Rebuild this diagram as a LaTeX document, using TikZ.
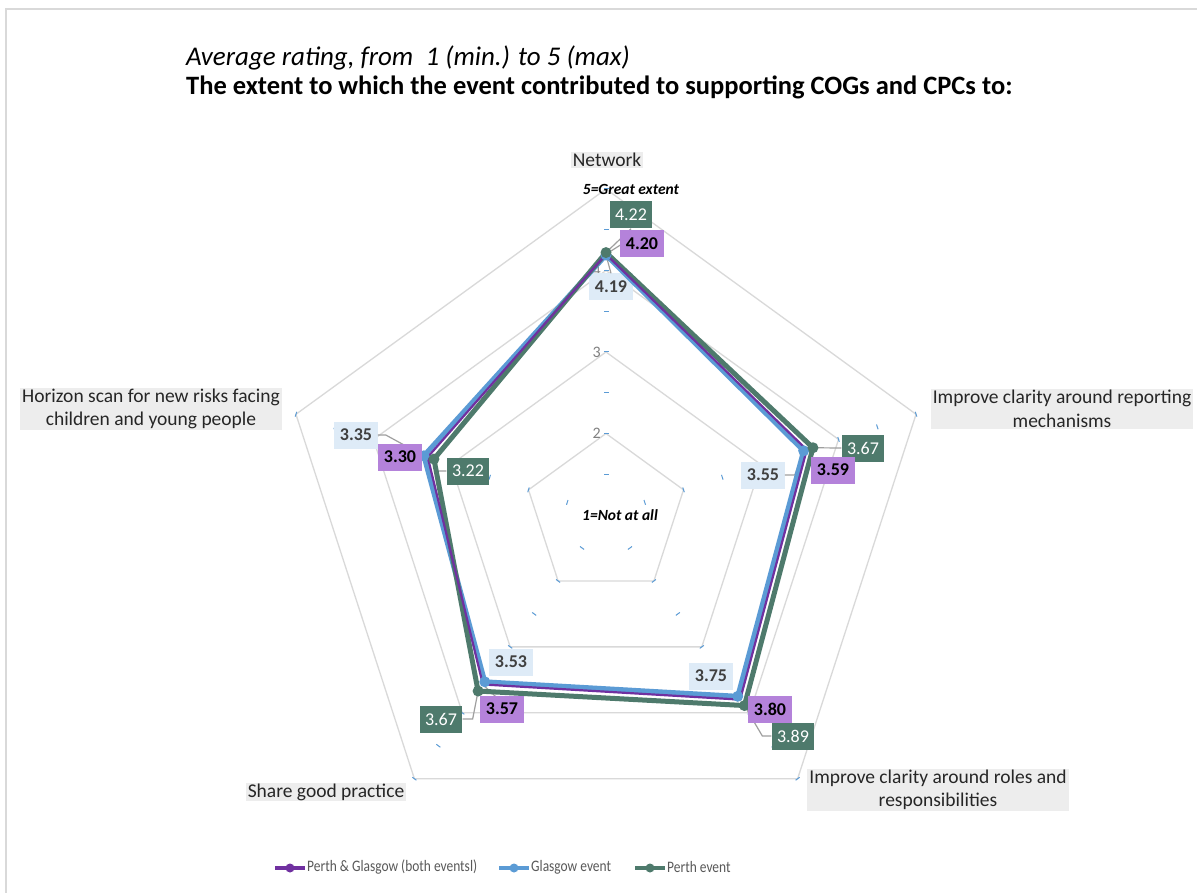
\documentclass[tikz,border=0pt]{standalone}
\usepackage{fontspec}
\setmainfont{Carlito}
\newfontfamily\legfont[FakeStretch=0.84]{Carlito}
\usepackage{tikz}
\usetikzlibrary{calc,positioning}
\definecolor{bothcol}{HTML}{7030A0}
\definecolor{glascol}{HTML}{5B9BD5}
\definecolor{perthcol}{HTML}{4E7A6C}
\definecolor{bothfill}{HTML}{B482DA}
\definecolor{glasfill}{HTML}{DEEBF7}
\definecolor{catfill}{HTML}{EDEDED}
\definecolor{gridcol}{HTML}{D9D9D9}
\newcommand{\unitr}{81.5}

\begin{document}
\begin{tikzpicture}[x=1pt,y=-1pt,
    gridline/.style={draw=gridcol,line width=1.3pt},
    tickmark/.style={draw=glascol,line width=1pt},
    leader/.style={draw=gray!75,line width=1.2pt},
    catlabel/.style={fill=catfill,inner xsep=2pt,inner ysep=1pt,align=center,
      font=\fontsize{19.5}{23.5}\selectfont,text=black!85},
    vallabel/.style={inner xsep=5.5pt,inner ysep=3pt,minimum height=27pt,
      font=\fontsize{18}{20}\selectfont},
    bothbox/.style={vallabel,fill=bothfill,text=black,font=\fontsize{18}{20}\selectfont\bfseries},
    glasbox/.style={vallabel,fill=glasfill,text=black!75,font=\fontsize{18}{20}\selectfont\bfseries},
    perthbox/.style={vallabel,fill=perthcol,text=white},
    serie/.style={line join=round}]
  \useasboundingbox (0,0) rectangle (1197,893);
  \fill[white] (0,0) rectangle (1197,893);
  \draw[gridcol,line width=1.5pt] (6,900) -- (6,9) -- (1205,9);

  % titles
  \node[anchor=base west,font=\fontsize{27}{30}\selectfont\itshape,inner sep=0pt] (subtitle) at (186,66)
    {Average rating, from~ 1 (min.) to 5 (max)};
  \node[anchor=base west,font=\fontsize{26.5}{30}\selectfont\bfseries,inner sep=0pt] (title) at (186,95)
    {The extent to which the event contributed to supporting COGs and CPCs to:};

  \begin{scope}[shift={(606,515)}]
    % grid pentagons and ticks
    \foreach \v in {2,...,5}
      \draw[gridline] (-90:{(\v-1)*\unitr}) -- (-18:{(\v-1)*\unitr}) -- (54:{(\v-1)*\unitr})
        -- (126:{(\v-1)*\unitr}) -- (198:{(\v-1)*\unitr}) -- cycle;
    \foreach \a in {-90,-18,54,126,198}
      \foreach \k in {1,...,8}
        \draw[tickmark] ($({\a}:{\k*\unitr/2})+({\a+90}:2.5)$) -- ($({\a}:{\k*\unitr/2})+({\a-90}:2.5)$);
    \foreach \v in {2,3,4}
      \node[anchor=east,text=gray,font=\fontsize{16}{18}\selectfont,inner sep=1pt] (ax\v)
        at (-4,{-(\v-1)*\unitr}) {\v};
    \node[font=\fontsize{15.5}{17}\selectfont\bfseries\itshape] (top) at (25,-326) {5=Great extent};
    \node[font=\fontsize{15.5}{17}\selectfont\bfseries\itshape] (ctr) at (14,0) {1=Not at all};

    % data points
    \foreach \v [count=\i] in {4.20,3.59,3.80,3.57,3.30}
      \coordinate (both\i) at ({-162+72*\i}:{(\v-1)*\unitr});
    \foreach \v [count=\i] in {4.19,3.55,3.75,3.53,3.35}
      \coordinate (glas\i) at ({-162+72*\i}:{(\v-1)*\unitr});
    \foreach \v [count=\i] in {4.22,3.67,3.89,3.67,3.22}
      \coordinate (perth\i) at ({-162+72*\i}:{(\v-1)*\unitr});
  \end{scope}

  % axis labels
  \node[catlabel] (network) at (607,160) {Network};
  \node[catlabel] (reporting) at (1062,409) {Improve clarity around reporting\\mechanisms};
  \node[catlabel] (roles) at (938,790) {Improve clarity around roles and\\responsibilities};
  \node[catlabel] (practice) at (326,792) {Share good practice};
  \node[catlabel] (horizon) at (151,409) {Horizon scan for new risks facing\\children and young people};

  % value labels
  \node[perthbox] (pl1) at (631,215) {4.22};
  \node[perthbox] (pl2) at (863,448) {3.67};
  \node[perthbox] (pl3) at (793,736) {3.89};
  \node[perthbox] (pl4) at (441,719) {3.67};
  \node[perthbox] (pl5) at (468,471) {3.22};
  \node[glasbox] (gl1) at (611,287) {4.19};
  \node[glasbox] (gl2) at (763,475) {3.55};
  \node[glasbox] (gl3) at (711,676) {3.75};
  \node[glasbox] (gl4) at (511,662) {3.53};
  \node[glasbox] (gl5) at (356,435) {3.35};

  \draw[leader] (pl1.south) -- (perth1);
  \draw[leader] (pl2.west) -- (perth2);
  \draw[leader] (pl3.west) -- ++(-9,0) -- (perth3);
  \draw[leader] (pl4.east) -- ++(10,0) -- (perth4);
  \draw[leader] (pl5.west) -- ++(-10,0) -- (perth5);
  \draw[leader] (gl1.north) -- (glas1);
  \draw[leader] (gl2.east) -- ++(10,0) -- (glas2);
  \draw[leader] (gl5.east) -- ++(8,0) -- (glas5);
  \draw[leader] (both1) -- (622,244);
  \draw[leader] (both4) -- (496,697);

  % series
  \draw[serie,glascol,line width=5pt] (glas1) -- (glas2) -- (glas3) -- (glas4) -- (glas5) -- cycle;
  \draw[serie,perthcol,line width=5pt] (perth1) -- (perth2) -- (perth3) -- (perth4) -- (perth5) -- cycle;
  \draw[serie,bothcol,line width=2.2pt] (both1) -- (both2) -- (both3) -- (both4) -- (both5) -- cycle;
  \foreach \i in {1,...,5} {
    \fill[glascol] (glas\i) circle (5.5pt);
    \fill[perthcol] (perth\i) circle (5.5pt);
  }

  \node[bothbox] (bl1) at (642,244) {4.20};
  \node[bothbox] (bl2) at (833,470) {3.59};
  \node[bothbox] (bl3) at (770,709) {3.80};
  \node[bothbox] (bl4) at (502,709) {3.57};
  \node[bothbox] (bl5) at (400,457) {3.30};

  % legend
  \begin{scope}[font=\legfont\fontsize{16}{18}\selectfont,text=black!65]
    \draw[bothcol,line width=4pt] (275,868) -- (305,868);
    \fill[bothcol] (290,868) circle (4.5pt);
    \node[anchor=west,inner sep=1pt] (legboth) at (306,867) {Perth \& Glasgow (both eventsl)};
    \draw[glascol,line width=4pt] (499,868) -- (529,868);
    \fill[glascol] (514,868) circle (4.5pt);
    \node[anchor=west,inner sep=1pt] (legglas) at (530,867) {Glasgow event};
    \draw[perthcol,line width=4pt] (635,868) -- (665,868);
    \fill[perthcol] (650,868) circle (4.5pt);
    \node[anchor=west,inner sep=1pt] (legperth) at (666,867) {Perth event};
  \end{scope}
\end{tikzpicture}
\end{document}
